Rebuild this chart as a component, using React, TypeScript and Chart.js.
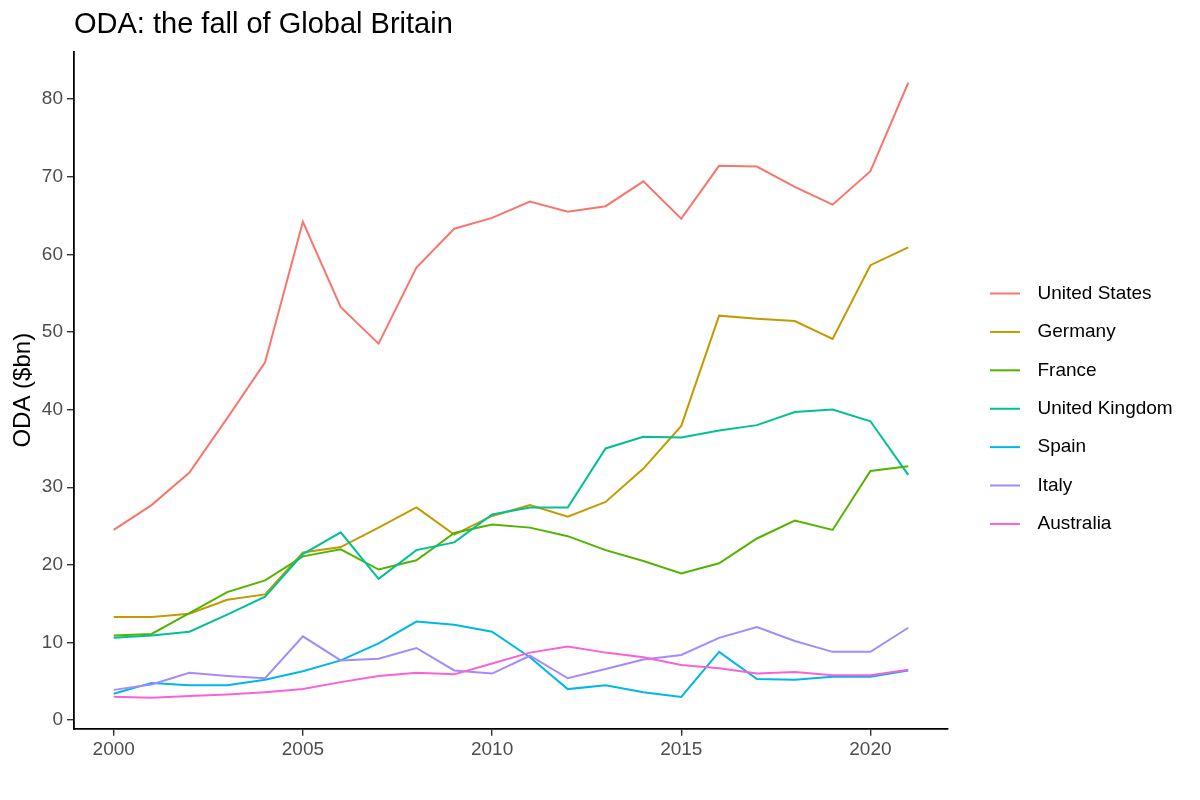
import { useEffect, useRef } from 'react';
import { Chart, registerables } from 'chart.js';

Chart.register(...registerables);

const years = [
  2000, 2001, 2002, 2003, 2004, 2005, 2006, 2007, 2008, 2009, 2010,
  2011, 2012, 2013, 2014, 2015, 2016, 2017, 2018, 2019, 2020, 2021,
];

// ODA in $bn
const unitedStates = [24.5, 27.7, 31.9, 38.9, 46.1, 64.2, 53.2, 48.5, 58.3, 63.3, 64.7, 66.8, 65.5, 66.2, 69.4, 64.6, 71.4, 71.3, 68.7, 66.4, 70.7, 82.1];
const germany = [13.3, 13.3, 13.7, 15.5, 16.2, 21.6, 22.3, 24.8, 27.4, 23.9, 26.3, 27.7, 26.2, 28.1, 32.4, 37.9, 52.1, 51.7, 51.4, 49.1, 58.6, 60.9];
const france = [10.9, 11.1, 13.8, 16.5, 18.0, 21.1, 22.0, 19.4, 20.6, 24.1, 25.2, 24.8, 23.7, 21.9, 20.5, 18.9, 20.2, 23.4, 25.7, 24.5, 32.1, 32.7];
const unitedKingdom = [10.6, 10.9, 11.4, 13.6, 15.9, 21.4, 24.2, 18.2, 21.9, 22.9, 26.5, 27.4, 27.4, 35.0, 36.5, 36.4, 37.3, 38.0, 39.7, 40.0, 38.5, 31.6];
const spain = [3.4, 4.8, 4.5, 4.5, 5.2, 6.3, 7.7, 9.9, 12.7, 12.3, 11.4, 8.1, 4.0, 4.5, 3.6, 3.0, 8.8, 5.3, 5.2, 5.6, 5.6, 6.4];
const italy = [3.9, 4.6, 6.1, 5.7, 5.4, 10.8, 7.7, 7.9, 9.3, 6.4, 6.0, 8.3, 5.4, 6.6, 7.8, 8.4, 10.6, 12.0, 10.2, 8.8, 8.8, 11.9];
const australia = [3.0, 2.9, 3.1, 3.3, 3.6, 4.0, 4.9, 5.7, 6.1, 5.9, 7.3, 8.7, 9.5, 8.7, 8.1, 7.1, 6.7, 6.0, 6.2, 5.8, 5.8, 6.5];

const countries = ['United States', 'Germany', 'France', 'United Kingdom', 'Spain', 'Italy', 'Australia'];
const series = [unitedStates, germany, france, unitedKingdom, spain, italy, australia];
const colours = ['#F8766D', '#C49A00', '#53B400', '#00C094', '#00B6EB', '#A58AFF', '#FB61D7'];

const FONT = '"Liberation Sans", Arial, Helvetica, sans-serif';

// legend key: a 30px line with some blank room after it, like ggplot's key + gap
function legendKey(colour: string) {
  const c = document.createElement('canvas');
  c.width = 38;
  c.height = 4;
  const g = c.getContext('2d');
  if (g) {
    g.strokeStyle = colour;
    g.lineWidth = 2;
    g.beginPath();
    g.moveTo(0, 2);
    g.lineTo(30, 2);
    g.stroke();
  }
  return c;
}

// give the legend a fixed width so the panel ends where ggplot's does
const fixedLegendWidth = {
  id: 'fixedLegendWidth',
  beforeLayout(chart: any) {
    const legend = chart.legend;
    if (!legend || legend._fixedWidth) return;
    const fit = legend.fit;
    legend.fit = function () {
      fit.call(this);
      this.width = 229.4;
    };
    legend._fixedWidth = true;
  },
};

export default function App() {
  const chartRef = useRef<HTMLCanvasElement>(null);
  const chartInstance = useRef<Chart | null>(null);

  useEffect(() => {
    if (!chartRef.current) return;
    if (chartInstance.current) chartInstance.current.destroy();

    const ctx = chartRef.current.getContext('2d');
    if (!ctx) return;

    chartInstance.current = new Chart(ctx, {
      type: 'line',
      data: {
        datasets: countries.map((name, i) => ({
          label: name,
          data: years.map((yr, j) => ({ x: yr, y: series[i][j] })),
          borderColor: colours[i],
          backgroundColor: colours[i],
          borderWidth: 2,
          pointRadius: 0,
          pointStyle: legendKey(colours[i]),
          tension: 0,
          // ggplot draws the later levels on top
          order: countries.length - i,
        })),
      },
      plugins: [fixedLegendWidth],
      options: {
        responsive: true,
        maintainAspectRatio: false,
        animation: false,
        layout: { padding: 0 },
        scales: {
          x: {
            type: 'linear',
            min: 1998.95,
            max: 2022.05,
            afterFit: (scale) => { scale.height = 71.3; },
            border: { display: true, color: '#000000', width: 1.8 },
            grid: { drawOnChartArea: false, drawTicks: true, tickLength: 7, color: '#333333', lineWidth: 1.4 },
            ticks: {
              stepSize: 5,
              includeBounds: false,
              padding: 3,
              color: '#4D4D4D',
              font: { family: FONT, size: 19 },
              callback: (v) => String(v),
            },
          },
          y: {
            type: 'linear',
            min: -1.1,
            max: 86.1,
            afterFit: (scale) => { scale.width = 74; },
            border: { display: true, color: '#000000', width: 1.8 },
            grid: { drawOnChartArea: false, drawTicks: true, tickLength: 7, color: '#333333', lineWidth: 1.4 },
            ticks: {
              stepSize: 10,
              includeBounds: false,
              padding: 4,
              color: '#4D4D4D',
              font: { family: FONT, size: 19 },
            },
            title: {
              display: true,
              text: 'ODA ($bn)',
              color: '#000000',
              font: { family: FONT, size: 24 },
              padding: { top: 8.6, bottom: 0 },
            },
          },
          // empty spacer between the panel and the legend
          gap: {
            type: 'linear',
            position: 'right',
            afterFit: (scale) => { scale.width = 22.6; },
            border: { display: false },
            grid: { display: false },
            ticks: { display: false },
          },
        },
        plugins: {
          title: {
            display: true,
            text: 'ODA: the fall of Global Britain',
            align: 'start',
            fullSize: false,
            color: '#000000',
            font: { family: FONT, size: 29, weight: 'normal' },
            padding: { top: 7.6, bottom: 9.3 },
          },
          legend: {
            position: 'right',
            align: 'center',
            title: { display: true, text: ' ', font: { size: 12 }, padding: 1.5 },
            labels: {
              usePointStyle: true,
              pointStyleWidth: 38,
              padding: 19.4,
              color: '#000000',
              font: { family: FONT, size: 19 },
              sort: (a, b) => (a.datasetIndex ?? 0) - (b.datasetIndex ?? 0),
            },
          },
          tooltip: { enabled: false },
        },
      },
    });

    return () => {
      if (chartInstance.current) {
        chartInstance.current.destroy();
        chartInstance.current = null;
      }
    };
  }, []);

  return (
    <div style={{ position: 'fixed', left: 0, top: 0, width: 1200, height: 800, background: '#ffffff' }}>
      <canvas ref={chartRef} />
    </div>
  );
}
